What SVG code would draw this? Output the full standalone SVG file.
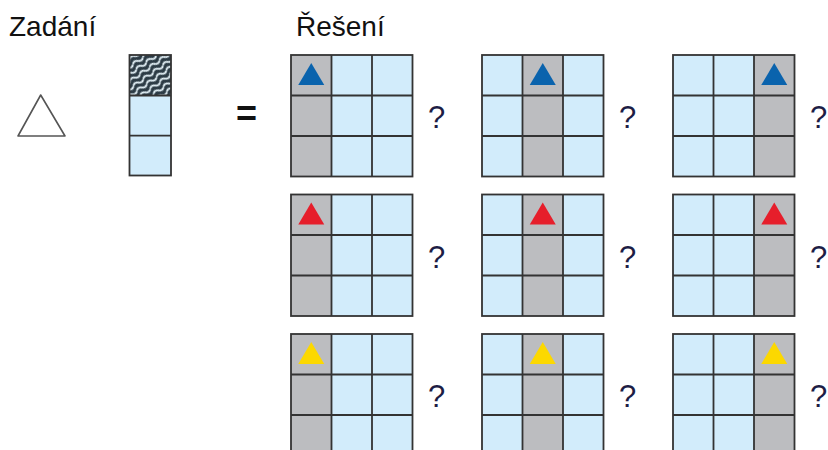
<svg xmlns="http://www.w3.org/2000/svg" xmlns:xlink="http://www.w3.org/1999/xlink" width="828" height="450" viewBox="0 0 828 450">
<style>
.t{font-family:"Liberation Sans",Arial,sans-serif;font-size:28px;fill:#111}
.cell{fill:#d2ecfb}
.gray{fill:#bcbdc0}
.ln{fill:none;stroke:#333;stroke-width:1.8}
.q{font-family:"Liberation Sans",Arial,sans-serif;font-size:31px;fill:#1d1d45}
.blue{fill:#0a63ad}
.red{fill:#e61e2b}
.yellow{fill:#fcd800}
</style>
<defs>
<pattern id="wave" width="12" height="6" patternUnits="userSpaceOnUse" patternTransform="rotate(-35)">
<rect width="12" height="6" fill="#2c3b45"/>
<path d="M0,3 Q3,0 6,3 T12,3" stroke="#e3f0f6" stroke-width="1.8" fill="none"/>
</pattern>
<g id="lines">
<path class="ln" d="M40.5,0V121.5M81,0V121.5M0,40.5H121.5M0,81H121.5"/>
<rect class="ln" width="121.5" height="121.5"/>
</g>
</defs>
<rect width="828" height="450" fill="#fff"/>
<text class="t" x="9" y="36">Zadání</text>
<text class="t" x="296" y="36">Řešení</text>
<g id="given-triangle">
<path d="M40.7,95 L18,136 L65,136 Z" fill="none" stroke="#555" stroke-width="1.6" stroke-linejoin="round"/>
</g>
<g id="given-column">
<rect x="129.5" y="55" width="41.5" height="40.5" fill="url(#wave)"/>
<rect x="129.5" y="95.5" width="41.5" height="80" class="cell"/>
<path class="ln" d="M129.5,95.5H171M129.5,135.7H171"/>
<rect class="ln" x="129.5" y="55" width="41.5" height="120.5"/>
</g>
<text x="236" y="126" font-family="Liberation Sans,Arial,sans-serif" font-size="36" font-weight="bold" fill="#111">=</text>
<g id="grid-blue-1" transform="translate(291,55)">
<rect class="cell" width="121.5" height="121.5"/><rect class="gray" x="0" width="40.5" height="121.5"/><use xlink:href="#lines"/>
<path class="blue" d="M20.25,8l13,22h-26z"/><text class="q" x="137" y="73">?</text></g>
<g id="grid-blue-2" transform="translate(482,55)">
<rect class="cell" width="121.5" height="121.5"/><rect class="gray" x="40.5" width="40.5" height="121.5"/><use xlink:href="#lines"/>
<path class="blue" d="M60.75,8l13,22h-26z"/><text class="q" x="137" y="73">?</text></g>
<g id="grid-blue-3" transform="translate(673,55)">
<rect class="cell" width="121.5" height="121.5"/><rect class="gray" x="81" width="40.5" height="121.5"/><use xlink:href="#lines"/>
<path class="blue" d="M101.25,8l13,22h-26z"/><text class="q" x="137" y="73">?</text></g>
<g id="grid-red-1" transform="translate(291,194.5)">
<rect class="cell" width="121.5" height="121.5"/><rect class="gray" x="0" width="40.5" height="121.5"/><use xlink:href="#lines"/>
<path class="red" d="M20.25,8l13,22h-26z"/><text class="q" x="137" y="73">?</text></g>
<g id="grid-red-2" transform="translate(482,194.5)">
<rect class="cell" width="121.5" height="121.5"/><rect class="gray" x="40.5" width="40.5" height="121.5"/><use xlink:href="#lines"/>
<path class="red" d="M60.75,8l13,22h-26z"/><text class="q" x="137" y="73">?</text></g>
<g id="grid-red-3" transform="translate(673,194.5)">
<rect class="cell" width="121.5" height="121.5"/><rect class="gray" x="81" width="40.5" height="121.5"/><use xlink:href="#lines"/>
<path class="red" d="M101.25,8l13,22h-26z"/><text class="q" x="137" y="73">?</text></g>
<g id="grid-yellow-1" transform="translate(291,334)">
<rect class="cell" width="121.5" height="121.5"/><rect class="gray" x="0" width="40.5" height="121.5"/><use xlink:href="#lines"/>
<path class="yellow" d="M20.25,8l13,22h-26z"/><text class="q" x="137" y="73">?</text></g>
<g id="grid-yellow-2" transform="translate(482,334)">
<rect class="cell" width="121.5" height="121.5"/><rect class="gray" x="40.5" width="40.5" height="121.5"/><use xlink:href="#lines"/>
<path class="yellow" d="M60.75,8l13,22h-26z"/><text class="q" x="137" y="73">?</text></g>
<g id="grid-yellow-3" transform="translate(673,334)">
<rect class="cell" width="121.5" height="121.5"/><rect class="gray" x="81" width="40.5" height="121.5"/><use xlink:href="#lines"/>
<path class="yellow" d="M101.25,8l13,22h-26z"/><text class="q" x="137" y="73">?</text></g>
</svg>
